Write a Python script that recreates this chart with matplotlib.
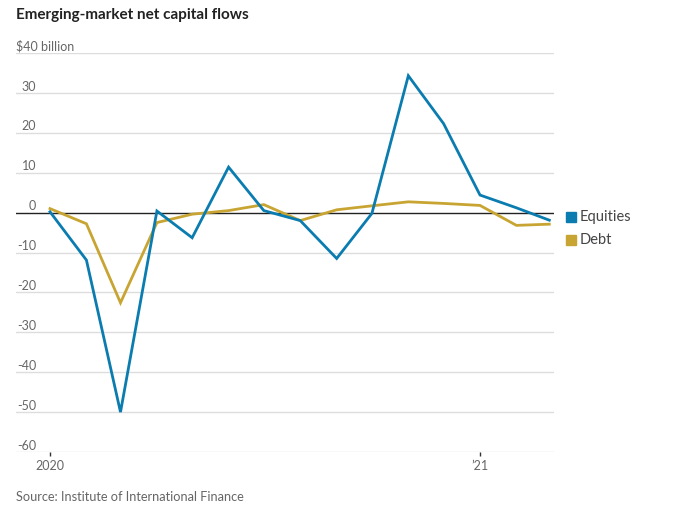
import matplotlib
matplotlib.use("Agg")
import matplotlib.pyplot as plt
import matplotlib.transforms as mtransforms
import numpy as np
import pandas as pd

dates = pd.date_range("2020-01-01", periods=15, freq="MS")
equities = [0.2, -11.9, -50.0, 0.4, -6.3, 11.4, 0.5, -2.0, -11.5, -0.2, 34.3, 22.3, 4.4, 1.2, -1.9]
debt = [1.0, -2.8, -22.6, -2.5, -0.4, 0.5, 2.0, -2.0, 0.7, 1.7, 2.7, 2.3, 1.8, -3.2, -2.9]
yticks = [40, 30, 20, 10, 0, -10, -20, -30, -40, -50, -60]
ytick_labels = ["$40 billion", "30", "20", "10", "0", "-10", "-20", "-30", "-40", "-50", "-60"]
xtick_dates = [pd.Timestamp("2020-01-01"), pd.Timestamp("2021-01-01")]
xtick_labels = ["2020", "\u201921"]

BLUE = "#0a7cb0"
GOLD = "#c8a532"
GRAY = "#666666"

plt.rcParams["font.family"] = ["Lato", "DejaVu Sans"]

W, H = 685, 523
fig = plt.figure(figsize=(W / 100, H / 100), dpi=100)
ax = fig.add_axes([16 / W, 1 - 452 / H, (554 - 16) / W, (452 - 53) / H])

x0 = pd.Timestamp("2020-01-01")
x1 = pd.Timestamp("2021-01-01")
ppd = (480 - 50) / (x1 - x0).days
xmin = x0 - pd.Timedelta(days=(50 - 16) / ppd)
xmax = x0 + pd.Timedelta(days=(554 - 50) / ppd)
ax.set_xlim(xmin, xmax)
ax.set_ylim(-60, 40)

for y in yticks:
    if y == 0:
        continue
    ax.axhline(y, color="#dddddd", lw=1.0, zorder=0)
ax.axhline(0, color="#222222", lw=1.0, zorder=1)

ax.plot(dates, debt, color=GOLD, lw=2.0, zorder=3, solid_joinstyle="miter")
ax.plot(dates, equities, color=BLUE, lw=2.0, zorder=4, solid_joinstyle="miter")

for s in ax.spines.values():
    s.set_visible(False)
ax.set_yticks([])
ax.set_xticks(xtick_dates)
ax.set_xticklabels(xtick_labels, fontsize=9, color=GRAY)
ax.tick_params(axis="x", length=3, width=1, color="#333333", pad=3)

trans = mtransforms.blended_transform_factory(fig.transFigure, ax.transData)
for y, lab in zip(yticks, ytick_labels):
    if y == 40:
        ax.text(16 / W, y + 0.1, lab, transform=trans, ha="left", va="bottom",
                fontsize=9, color=GRAY)
    else:
        ax.text(36 / W, y + 0.1, lab, transform=trans, ha="right", va="bottom",
                fontsize=9, color=GRAY)

fig.text(16 / W, 1 - 15 / H, "Emerging-market net capital flows", ha="left", va="center",
         fontsize=11, fontweight="bold", color="#222222")
fig.text(16 / W, 1 - 497 / H, "Source: Institute of International Finance", ha="left",
         va="center", fontsize=9.2, color=GRAY)

# legend
from matplotlib.patches import Rectangle
for yy, lab, c in [(217, "Equities", BLUE), (240, "Debt", GOLD)]:
    fig.patches.append(Rectangle((566 / W, 1 - (yy + 5) / H), 10 / W, 10 / H,
                                 transform=fig.transFigure, color=c))
    fig.text(580 / W, 1 - yy / H, lab, ha="left", va="center", fontsize=10.5, color="#444444")

fig.savefig("out.png", dpi=100)
